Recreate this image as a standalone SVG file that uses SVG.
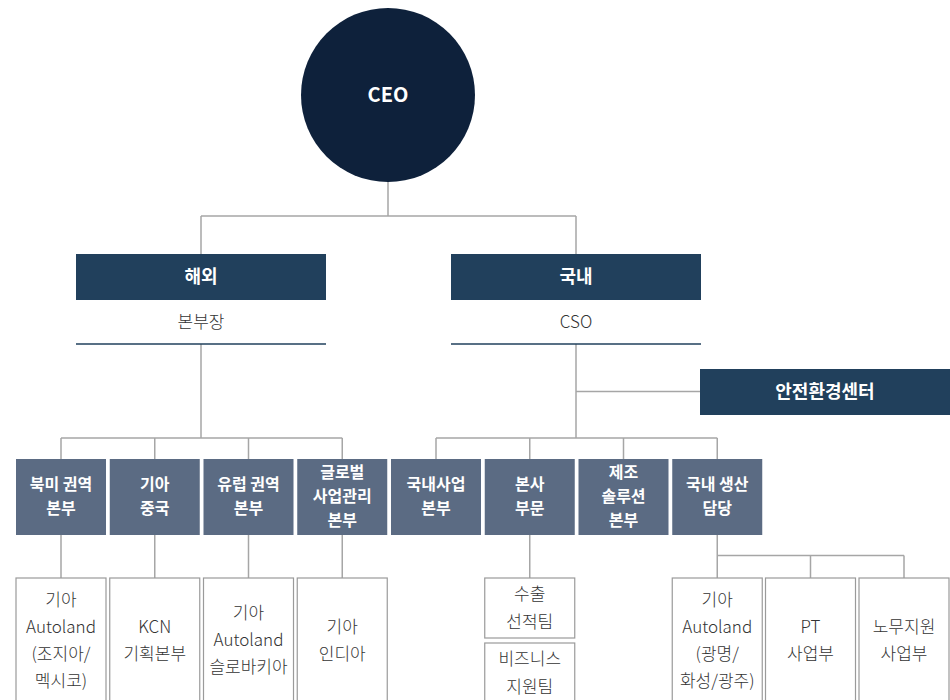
<svg xmlns="http://www.w3.org/2000/svg" width="950" height="700" viewBox="0 0 950 700">
<style>
text{font-family:"Noto Sans CJK KR","Noto Sans",sans-serif;text-anchor:middle;}
.w{fill:#fff;font-weight:700;}
.t2{font-size:18px;}
.t3{font-size:16px;}
.g{fill:#333;font-size:17px;font-weight:300;}
.l2{fill:#21405c;}
.l3{fill:#5b6b83;}
.l4{fill:#fff;stroke:#9a9a9a;stroke-width:1.2;}
.c{fill:none;stroke:#a6a6a6;stroke-width:1.5;}
.u{stroke:#21405c;stroke-width:1.5;}
</style>
<rect width="950" height="700" fill="#fff"/>
<g id="connectors">
<path class="c" d="M388 182V216M201 216H576M201 216V254M576 216V254"/>
<path class="c" d="M201 344V438M61 438H342.25M61 438V459M154.75 438V459M248.5 438V459M342.25 438V459"/>
<path class="c" d="M576 344V438M576 391.5H700M436 438H717.25M436 438V459M529.75 438V459M623.5 438V459M717.25 438V459"/>
<path class="c" d="M61 535V578M154.75 535V578M248.5 535V578M342.25 535V578M529.75 535V578"/>
<path class="c" d="M717.25 535V578M717.25 555.5H904M810.5 555.5V578M904 555.5V578"/>
</g>
<g id="ceo"><circle cx="388" cy="95" r="87" fill="#0e213b"/><text class="w" x="388" y="102" font-size="20">CEO</text></g>
<g id="overseas"><rect class="l2" x="76" y="254" width="250" height="46"/><text class="w t2" x="201" y="283">해외</text><text class="g" x="201" y="328" font-size="18">본부장</text><line class="u" x1="76" y1="344" x2="326" y2="344"/></g>
<g id="domestic"><rect class="l2" x="451" y="254" width="250" height="46"/><text class="w t2" x="576" y="283">국내</text><text class="g" x="576" y="328" font-size="18">CSO</text><line class="u" x1="451" y1="344" x2="701" y2="344"/></g>
<g id="safety"><rect class="l2" x="700" y="369" width="250" height="46"/><text class="w t2" x="825" y="398">안전환경센터</text></g>
<g id="na"><rect class="l3" x="16" y="459" width="90" height="76"/><text class="w t3" x="61" y="490">북미 권역</text><text class="w t3" x="61" y="514">본부</text></g>
<g id="china"><rect class="l3" x="109.75" y="459" width="90" height="76"/><text class="w t3" x="154.75" y="490">기아</text><text class="w t3" x="154.75" y="514">중국</text></g>
<g id="eu"><rect class="l3" x="203.5" y="459" width="90" height="76"/><text class="w t3" x="248.5" y="490">유럽 권역</text><text class="w t3" x="248.5" y="514">본부</text></g>
<g id="global"><rect class="l3" x="297.25" y="459" width="90" height="76"/><text class="w t3" x="342.25" y="478">글로벌</text><text class="w t3" x="342.25" y="502">사업관리</text><text class="w t3" x="342.25" y="526">본부</text></g>
<g id="dombiz"><rect class="l3" x="391" y="459" width="90" height="76"/><text class="w t3" x="436" y="490">국내사업</text><text class="w t3" x="436" y="514">본부</text></g>
<g id="hq"><rect class="l3" x="484.75" y="459" width="90" height="76"/><text class="w t3" x="529.75" y="490">본사</text><text class="w t3" x="529.75" y="514">부문</text></g>
<g id="mfg"><rect class="l3" x="578.5" y="459" width="90" height="76"/><text class="w t3" x="623.5" y="478">제조</text><text class="w t3" x="623.5" y="502">솔루션</text><text class="w t3" x="623.5" y="526">본부</text></g>
<g id="prod"><rect class="l3" x="672.25" y="459" width="90" height="76"/><text class="w t3" x="717.25" y="490">국내 생산</text><text class="w t3" x="717.25" y="514">담당</text></g>
<g id="al-us"><rect class="l4" x="16" y="578" width="90" height="140"/><text class="g" x="61" y="606">기아</text><text class="g" x="61" y="633">Autoland</text><text class="g" x="61" y="660">(조지아/</text><text class="g" x="61" y="687">멕시코)</text></g>
<g id="kcn"><rect class="l4" x="109.75" y="578" width="90" height="140"/><text class="g" x="154.75" y="633">KCN</text><text class="g" x="154.75" y="660">기획본부</text></g>
<g id="al-sk"><rect class="l4" x="203.5" y="578" width="90" height="140"/><text class="g" x="248.5" y="619">기아</text><text class="g" x="248.5" y="646">Autoland</text><text class="g" x="248.5" y="673">슬로바키아</text></g>
<g id="india"><rect class="l4" x="297.25" y="578" width="90" height="140"/><text class="g" x="342.25" y="633">기아</text><text class="g" x="342.25" y="660">인디아</text></g>
<g id="export"><rect class="l4" x="484.75" y="578" width="90" height="60"/><text class="g" x="529.75" y="600">수출</text><text class="g" x="529.75" y="628">선적팀</text></g>
<g id="bizsup"><rect class="l4" x="484.75" y="643" width="90" height="80"/><text class="g" x="529.75" y="665">비즈니스</text><text class="g" x="529.75" y="693">지원팀</text></g>
<g id="al-kr"><rect class="l4" x="672.25" y="578" width="90" height="140"/><text class="g" x="717.25" y="606">기아</text><text class="g" x="717.25" y="633">Autoland</text><text class="g" x="717.25" y="660">(광명/</text><text class="g" x="717.25" y="687">화성/광주)</text></g>
<g id="pt"><rect class="l4" x="765.5" y="578" width="90" height="140"/><text class="g" x="810.5" y="633">PT</text><text class="g" x="810.5" y="660">사업부</text></g>
<g id="labor"><rect class="l4" x="859" y="578" width="90" height="140"/><text class="g" x="904" y="633">노무지원</text><text class="g" x="904" y="660">사업부</text></g>
</svg>
